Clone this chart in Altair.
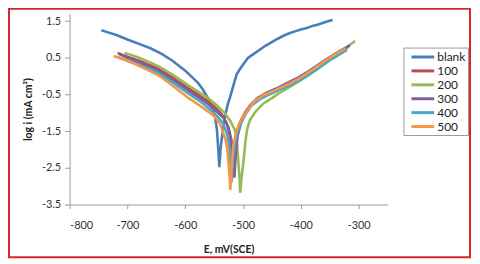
import altair as alt
import pandas as pd

series = ["blank", "100", "200", "300", "400", "500"]
colors = ["#4A7EBB", "#BE4B48", "#98B954", "#7D60A0", "#46AAC5", "#F79646"]

E_blank = [-745, -735, -720, -700, -680, -660, -640, -622, -600, -590, -578, -570, -560, -551, -548, -545, -543, -541,
           -539, -536, -533, -530, -526, -522, -516, -511, -505, -498, -491, -482, -473, -462, -451, -440, -430, -420,
           -410, -400, -390, -380, -370, -360, -350, -345]
L_blank = [1.25, 1.2, 1.13, 1.0, 0.88, 0.76, 0.6, 0.42, 0.15, 0.0, -0.18, -0.35, -0.62, -0.93, -1.15, -1.47, -1.95, -2.48,
           -2.0, -1.6, -1.25, -1.0, -0.75, -0.55, -0.22, 0.05, 0.2, 0.36, 0.5, 0.6, 0.7, 0.82, 0.92, 1.02, 1.1, 1.17,
           1.22, 1.27, 1.31, 1.37, 1.41, 1.46, 1.51, 1.53]

E_100 = [-717, -700, -680, -660, -645, -620, -594, -575, -559, -545, -535, -528, -523, -520, -518,
         -515, -511, -505, -497, -488, -475, -460, -440, -420, -405, -390, -374, -360, -345, -330, -318]
L_100 = [0.63, 0.53, 0.42, 0.29, 0.19, -0.06, -0.34, -0.53, -0.7, -0.9, -1.08, -1.3, -1.6, -1.95, -2.3,
         -1.9, -1.55, -1.25, -1.0, -0.8, -0.6, -0.47, -0.33, -0.18, -0.06, 0.08, 0.25, 0.4, 0.55, 0.69, 0.8]

E_200 = [-705, -697, -680, -660, -645, -620, -594, -575, -559, -545, -531, -522, -514, -510, -508, -506, -505,
         -502, -499, -496, -493, -488, -479, -465, -450, -439, -420, -405, -390, -374, -360, -345, -330, -318, -306]
L_200 = [0.63, 0.6, 0.5, 0.37, 0.26, 0.02, -0.26, -0.45, -0.62, -0.8, -1.02, -1.22, -1.47, -1.9, -2.36, -2.8, -3.18,
         -2.7, -2.3, -1.8, -1.45, -1.2, -0.98, -0.75, -0.6, -0.48, -0.3, -0.16, -0.01, 0.16, 0.32, 0.5, 0.67, 0.82, 0.96]

E_300 = [-714, -700, -680, -660, -645, -620, -594, -575, -559, -545, -533, -525, -520, -517, -515,
         -512, -509, -504, -497, -488, -475, -460, -440, -420, -405, -390, -374, -360, -345, -330, -315]
L_300 = [0.6, 0.5, 0.38, 0.24, 0.13, -0.12, -0.4, -0.6, -0.78, -0.97, -1.15, -1.4, -1.75, -2.2, -2.77,
         -2.0, -1.6, -1.3, -1.05, -0.82, -0.6, -0.46, -0.32, -0.16, -0.04, 0.1, 0.27, 0.42, 0.57, 0.71, 0.84]

E_400 = [-718, -700, -680, -660, -645, -620, -594, -575, -559, -545, -535, -528, -524, -522, -520,
         -517, -514, -510, -503, -495, -485, -470, -455, -440, -420, -405, -390, -374, -360, -345, -330, -320]
L_400 = [0.52, 0.42, 0.31, 0.18, 0.07, -0.19, -0.48, -0.68, -0.88, -1.08, -1.28, -1.55, -1.9, -2.3, -2.9,
         -2.2, -1.85, -1.55, -1.25, -1.02, -0.8, -0.62, -0.5, -0.4, -0.26, -0.14, 0.0, 0.17, 0.33, 0.48, 0.62, 0.72]

E_500 = [-724, -710, -697, -680, -660, -645, -620, -594, -575, -559, -548, -540, -535, -530, -527, -525, -523, -522,
         -519, -517, -513, -508, -500, -491, -480, -465, -450, -439, -420, -405, -390, -374, -360, -345, -332, -322]
L_500 = [0.55, 0.48, 0.4, 0.28, 0.13, 0.01, -0.28, -0.6, -0.8, -0.98, -1.12, -1.3, -1.5, -1.75, -2.0, -2.4, -2.8, -3.1,
         -2.3, -1.92, -1.6, -1.35, -1.1, -0.9, -0.68, -0.52, -0.42, -0.34, -0.2, -0.08, 0.07, 0.24, 0.4, 0.55, 0.67, 0.76]

x_ticks = [-800, -700, -600, -500, -400, -300]
y_ticks = [-3.5, -2.5, -1.5, -0.5, 0.5, 1.5]

rows = []
for name, es, ls in [("blank", E_blank, L_blank), ("100", E_100, L_100), ("200", E_200, L_200),
                     ("300", E_300, L_300), ("400", E_400, L_400), ("500", E_500, L_500)]:
    for i, (e, l) in enumerate(zip(es, ls)):
        rows.append({"series": name, "E": e, "logi": l, "i": i})
df = pd.DataFrame(rows)

FONT = "Lato"

border = alt.Chart(alt.Data(values=[{}])).mark_rect(
    filled=False, stroke="#d9262b", strokeWidth=2
).encode(
    x=alt.value(-61), x2=alt.value(403), y=alt.value(-5), y2=alt.value(245)
)

lines = alt.Chart(df).mark_line(strokeWidth=2.6).encode(
    x=alt.X("E:Q", scale=alt.Scale(domain=[-800, -250], nice=False, zero=False),
            axis=alt.Axis(values=x_ticks, title="E, mV(SCE)", grid=False, tickSize=4,
                          labelPadding=11, titlePadding=14, labelExpr="'' + datum.value")),
    y=alt.Y("logi:Q", scale=alt.Scale(domain=[-3.5, 1.7], nice=False, zero=False),
            axis=alt.Axis(values=y_ticks, title="log i (mA cm²)", grid=False, tickSize=5,
                          labelPadding=4, titlePadding=8, labelExpr="'' + datum.value")),
    color=alt.Color("series:N", scale=alt.Scale(domain=series, range=colors),
                    legend=alt.Legend(title=None, orient="none", legendX=336, legendY=34,
                                      symbolType="M-2,0L2,0", symbolSize=130, symbolStrokeWidth=3,
                                      symbolOffset=10,
                                      strokeColor="#999999", padding=2, fillColor="white",
                                      labelFontSize=12, labelFont=FONT, labelColor="#222222",
                                      labelOffset=7, rowPadding=0)),
    detail="series:N",
    order=alt.Order("i:Q"),
)

chart = alt.layer(border, lines).properties(
    width=320, height=192,
    autosize=alt.AutoSizeParams(type="none"),
    padding={"left": 62, "top": 5, "right": 85, "bottom": 55},
    background="white",
).configure_view(stroke=None).configure_axis(
    domainColor="#9a9a9a", tickColor="#9a9a9a", labelFont=FONT, labelFontSize=11,
    labelColor="#333333", titleFont=FONT, titleFontSize=10.5, titleFontWeight="bold",
    titleColor="#222222"
)

chart.save("out.html", embed_options={"renderer": "svg", "actions": False})
